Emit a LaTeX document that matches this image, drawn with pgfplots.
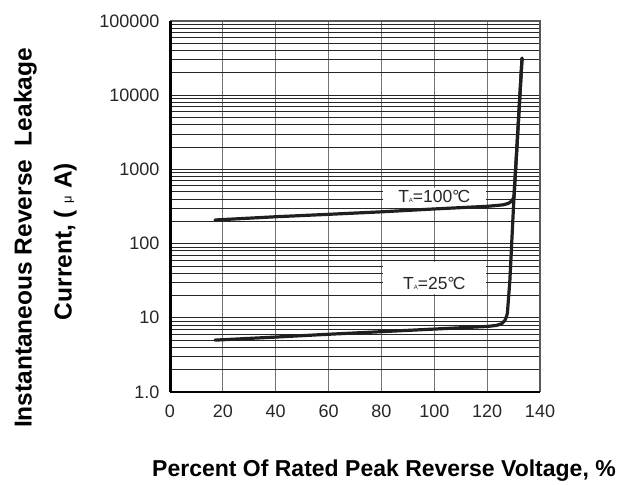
\documentclass[border=0pt]{standalone}
\usepackage{fontspec}
\setmainfont{Liberation Sans}
\usepackage{pgfplots}
\pgfplotsset{compat=1.18}
\begin{document}
\begin{tikzpicture}[x=1bp,y=1bp]
\path[use as bounding box] (0,0) rectangle (632,485);
\begin{axis}[
  at={(170bp,93bp)}, anchor=south west,
  scale only axis, width=370bp, height=371bp,
  xmin=0, xmax=140, ymin=1, ymax=100000,
  ymode=log,
  xtick={0,20,40,60,80,100,120,140},
  xticklabels={0,20,40,60,80,100,120,140},
  ytick={1,10,100,1000,10000,100000},
  yticklabels={1.0,10,100,1000,10000,100000},
  minor ytick={2,3,4,5,6,7,8,9,20,30,40,50,60,70,80,90,200,300,400,500,600,700,800,900,2000,3000,4000,5000,6000,7000,8000,9000,20000,30000,40000,50000,60000,70000,80000,90000},
  extra y ticks={2,20,200,2000,20000},
  extra y tick labels={},
  extra y tick style={grid=major, major grid style={black, line width=1.6bp}},
  major tick length=0pt, minor tick length=0pt,
  xmajorgrids, ymajorgrids, yminorgrids,
  major x grid style={black!55, line width=1.1bp},
  major y grid style={black!85, line width=0.8bp},
  minor y grid style={black!85, line width=0.8bp},
  axis line style={draw=none},
  tick label style={font=\fontsize{18bp}{20bp}\selectfont, black!85},
  yticklabel style={xshift=-7bp},
  xticklabel style={yshift=-9bp},
  clip=false,
]
\node[fill=white, inner sep=0pt, minimum width=103bp, minimum height=20bp] at (axis cs:100,412) {};
\node[fill=white, inner sep=0pt, minimum width=103bp, minimum height=32bp] at (axis cs:100,34.1) {};
\node[font=\fontsize{17.5bp}{19bp}\selectfont, text=black!85] at (axis cs:100,430) {T{\fontsize{6bp}{7bp}\selectfont A}=100°\kern-0.1em C};
\node[font=\fontsize{17.5bp}{19bp}\selectfont, text=black!85] at (axis cs:100,29.2) {T{\fontsize{6bp}{7bp}\selectfont A}=25°\kern-0.1em C};
\addplot[black!88, line width=3.2bp, line join=round, line cap=round] coordinates {
 (17,208) (40,230) (60,248) (80,268) (100,293) (120,318) (123.5,326) (126,333) (128,348) (129.2,372) (129.8,400) (130.15,425) (131.2,1820) (133.2,31600)};
\addplot[black!88, line width=3.2bp, line join=round, line cap=round] coordinates {
 (17,5.0) (40,5.5) (60,6.0) (80,6.5) (100,7.05) (120,7.64) (123.5,7.9) (125.5,8.3) (126.7,9.2) (127.3,10.3) (127.66,11.6) (128.6,32) (130.15,425) (131.2,1820) (133.2,31600)};
\draw[black!65, line width=1.3bp] (rel axis cs:0,1) -- (rel axis cs:1,1) -- (rel axis cs:1,0);
\draw[black, line width=1.6bp] (rel axis cs:0,0) -- (rel axis cs:1,0);
\draw[black, line width=3bp] (rel axis cs:0,0) -- (rel axis cs:0,1);
\end{axis}
\node[font=\bfseries\fontsize{23bp}{25bp}\selectfont, anchor=base] at (384,8.3) {Percent Of Rated Peak Reverse Voltage, \%};
\node[font=\bfseries\fontsize{24.5bp}{26bp}\selectfont, anchor=base, rotate=90] at (31.7,247) {Instantaneous Reverse\ \ Leakage};
\node[font=\bfseries\fontsize{24.5bp}{26bp}\selectfont, anchor=base, rotate=90] at (71.7,243.5) {Current, ( {\mdseries\fontsize{13bp}{14bp}\selectfont μ} A)};
\end{tikzpicture}
\end{document}
